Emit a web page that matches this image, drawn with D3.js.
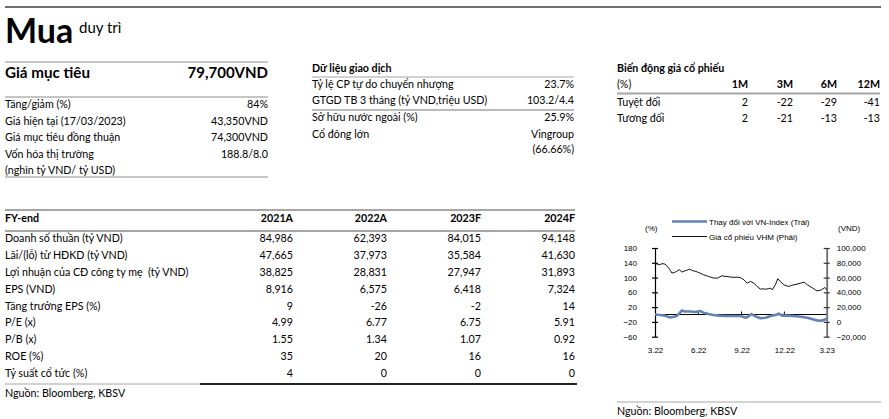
<!DOCTYPE html>
<html><head><meta charset="utf-8">
<script src="https://cdn.jsdelivr.net/npm/d3@7"></script>
<style>
html,body{margin:0;padding:0;background:#fff;}
svg{display:block;}
text{font-family:Lato,"Open Sans",sans-serif;fill:#000;white-space:pre;}
.c text{font-family:"Liberation Sans",Arial,sans-serif;}
</style></head>
<body><svg id="s" width="889" height="419"></svg>
<script>
// ---------- DATA ----------
const ratingMain = "Mua";
const ratingSub = "duy trì";
const targetLabel = "Giá mục tiêu";
const targetValue = "79,700VND";
const summaryLabels = ["Tăng/giảm (%)", "Giá hiện tại (17/03/2023)", "Giá mục tiêu đồng thuận", "Vốn hóa thị trường", "(nghìn tỷ VND/ tỷ USD)"];
const summaryValues = ["84%", "43,350VND", "74,300VND", "188.8/8.0", ""];
const tradeTitle = "Dữ liệu giao dịch";
const tradeLabels = ["Tỷ lệ CP tự do chuyển nhượng", "GTGD TB 3 tháng (tỷ VND,triệu USD)", "Sở hữu nước ngoài (%)", "Cổ đông lớn", ""];
const tradeValues = ["23.7%", "103.2/4.4", "25.9%", "Vingroup", "(66.66%)"];
const perfTitle = "Biến động giá cổ phiếu";
const perfPeriods = ["1M", "3M", "6M", "12M"];
const perfRows = ["Tuyệt đối", "Tương đối"];
const perfAbs = [2, -22, -29, -41];
const perfRel = [2, -21, -13, -13];
const fyYears = ["2021A", "2022A", "2023F", "2024F"];
const fyLabels = ["Doanh số thuần (tỷ VND)", "Lãi/(lỗ) từ HĐKD (tỷ VND)", "Lợi nhuận của CĐ công ty mẹ  (tỷ VND)", "EPS (VND)", "Tăng trưởng EPS (%)", "P/E (x)", "P/B (x)", "ROE (%)", "Tỷ suất cổ tức (%)"];
const fy2021 = ["84,986", "47,665", "38,825", "8,916", "9", "4.99", "1.55", "35", "4"];
const fy2022 = ["62,393", "37,973", "28,831", "6,575", "-26", "6.77", "1.34", "20", "0"];
const fy2023 = ["84,015", "35,584", "27,947", "6,418", "-2", "6.75", "1.07", "16", "0"];
const fy2024 = ["94,148", "41,630", "31,893", "7,324", "14", "5.91", "0.92", "16", "0"];
const sourceText = "Nguồn: Bloomberg, KBSV";

// chart data
const legendLabels = ["Thay đổi với VN-Index (Trái)", "Giá cổ phiếu VHM (Phải)"];
const leftUnit = "(%)";
const rightUnit = "(VND)";
const leftTicks = [180, 140, 100, 60, 20, -20, -60];
const rightTicks = [100000, 80000, 60000, 40000, 20000, 0, -20000];
const xTickDates = ["2022-03-01", "2022-06-01", "2022-09-01", "2022-12-01", "2023-03-01"];
const priceDates = ["2022-03-01","2022-03-05","2022-03-11","2022-03-16","2022-03-22","2022-03-29","2022-04-03","2022-04-06","2022-04-11","2022-04-16","2022-04-19","2022-04-22","2022-04-27","2022-05-04","2022-05-09","2022-05-13","2022-05-21","2022-05-27","2022-06-01","2022-06-07","2022-06-12","2022-06-18","2022-06-23","2022-06-28","2022-07-03","2022-07-12","2022-07-17","2022-07-21","2022-07-26","2022-08-01","2022-08-08","2022-08-15","2022-08-22","2022-08-30","2022-09-06","2022-09-13","2022-09-20","2022-09-27","2022-10-04","2022-10-11","2022-10-17","2022-10-22","2022-10-28","2022-11-02","2022-11-05","2022-11-12","2022-11-17","2022-11-22","2022-11-30","2022-12-05","2022-12-10","2022-12-16","2022-12-21","2022-12-28","2023-01-05","2023-01-12","2023-01-19","2023-01-24","2023-01-30","2023-02-03","2023-02-08","2023-02-13","2023-02-18","2023-02-25","2023-03-01"];
const priceValues = [79300,78400,77400,78800,78300,73800,69500,66100,66800,68300,69700,70600,67400,69200,70100,71500,69200,68300,67000,65400,63800,62600,61500,60500,59300,59300,61000,62400,61800,61500,60800,60200,60600,59800,57000,52500,54800,52500,48000,44300,44800,44300,44900,45700,43400,50200,58400,54800,50200,49000,48000,49400,50200,51200,52500,53800,50200,48200,45700,44200,42100,42500,43400,46600,43400];
const relDates = ["2022-03-01","2022-03-11","2022-03-22","2022-04-02","2022-04-10","2022-04-16","2022-04-22","2022-04-27","2022-05-04","2022-05-16","2022-05-25","2022-06-05","2022-06-12","2022-06-23","2022-07-03","2022-07-16","2022-08-01","2022-08-16","2022-08-30","2022-09-11","2022-09-22","2022-10-01","2022-10-11","2022-10-22","2022-11-02","2022-11-12","2022-11-19","2022-11-26","2022-12-07","2022-12-21","2023-01-05","2023-01-19","2023-01-30","2023-02-08","2023-02-18","2023-02-28"];
const relValues = [0,-1.4,-3,-8,-6,-4,3,11,8,8,7,9.5,5,1.4,-1.4,-3,-4,-4,-4,-8.6,1,-5,-10,-8.6,-4,-1.4,2.3,-3,-3,-4,-6,-8.6,-13,-15.8,-16.7,-12];

// ---------- DRAW ----------
const svg = d3.select("#s");
const fontMain = 10.7;

function hline(x1, x2, y, color, w) {
  svg.append("line").attr("x1", x1).attr("x2", x2).attr("y1", y).attr("y2", y)
    .attr("stroke", color).attr("stroke-width", w);
}
function txt(x, y, s, opts) {
  opts = opts || {};
  return svg.append("text").attr("x", x).attr("y", y)
    .attr("font-size", opts.size || fontMain)
    .attr("font-weight", opts.bold ? "bold" : "normal")
    .attr("text-anchor", opts.anchor || "start")
    .text(s);
}

// header
hline(5, 881, 7, "#404040", 1.5);
txt(5, 43, ratingMain, {size: 34, bold: true});
txt(79, 33, ratingSub, {size: 15});

// summary block
hline(5, 268, 62, "#8c8c8c", 1);
txt(5, 78, targetLabel, {size: 15.2, bold: true});
txt(268, 78, targetValue, {size: 15, bold: true, anchor: "end"});
hline(5, 268, 97, "#8c8c8c", 1);
const sumY = d3.scaleLinear().domain([0, 1]).range([108.3, 124.8]);
summaryLabels.forEach((l, i) => {
  txt(5, sumY(i), l);
  txt(268, sumY(i), summaryValues[i], {anchor: "end"});
});
hline(5, 268, 177, "#8c8c8c", 1);

// trading block
txt(312, 72.3, tradeTitle, {bold: true});
hline(312, 574, 77, "#a6a6a6", 1);
const trY = [88.3, 104.3, 121, 137.7, 153.3];
tradeLabels.forEach((l, i) => {
  txt(312, trY[i], l);
  txt(574, trY[i], tradeValues[i], {anchor: "end"});
});
hline(312, 574, 110, "#a6a6a6", 1.5);

// performance block
txt(617, 72.3, perfTitle, {bold: true});
txt(617, 88.3, "(%)");
const perfX = [748, 793, 837, 880];
perfPeriods.forEach((p, j) => txt(perfX[j], 88.3, p, {bold: true, anchor: "end"}));
hline(617, 880, 93.5, "#a6a6a6", 2);
[perfAbs, perfRel].forEach((row, i) => {
  const y = 105.5 + i * 16.5;
  txt(617, y, perfRows[i]);
  row.forEach((v, j) => txt(perfX[j], y, String(v), {anchor: "end"}));
});

// financial table
hline(5, 575, 210, "#a6a6a6", 2);
const colX = [293, 387, 481, 575];
txt(5, 222, "FY-end", {bold: true});
fyYears.forEach((y, j) => txt(colX[j], 222, y, {bold: true, anchor: "end"}));
hline(5, 575, 231, "#a6a6a6", 2);
const fyCols = [fy2021, fy2022, fy2023, fy2024];
const rowY = d3.scaleLinear().domain([0, 1]).range([242.3, 259.1]);
fyLabels.forEach((l, i) => {
  txt(5, rowY(i), l);
  fyCols.forEach((c, j) => txt(colX[j], rowY(i), c[i], {anchor: "end"}));
});
hline(5, 200, 384, "#a6a6a6", 1);
hline(200, 577, 384, "#222", 2);
txt(5, 397, sourceText);

// right source
hline(617, 881, 402, "#a6a6a6", 1);
txt(617, 415, sourceText);

// ---------- CHART ----------
const g = svg.append("g").attr("class", "c");
const parse = d3.timeParse("%Y-%m-%d");
const x = d3.scaleTime().domain([parse(xTickDates[0]), parse(xTickDates[4])]).range([655, 826.7]);
const yL = d3.scaleLinear().domain([-60, 180]).range([336.7, 248]);
const yR = d3.scaleLinear().domain([-20000, 100000]).range([336.7, 248]);

// zero baseline
g.append("line").attr("x1", x.range()[0]).attr("x2", x.range()[1])
  .attr("y1", yL(0)).attr("y2", yL(0)).attr("stroke", "#000").attr("stroke-width", 1);
xTickDates.slice(1, 4).forEach(d => {
  g.append("line").attr("x1", x(parse(d))).attr("x2", x(parse(d)))
    .attr("y1", yL(0)).attr("y2", yL(0) - 3).attr("stroke", "#000");
});

// left axis
const axL = d3.axisLeft(yL).tickValues(leftTicks).tickSize(0).tickPadding(18);
const gl = g.append("g").attr("transform", `translate(${x.range()[0]},0)`).call(axL);
gl.select(".domain").attr("stroke", "#000").attr("stroke-width", 1.2);
gl.selectAll(".tick line").remove();
gl.selectAll(".tick").append("line").attr("x1", -3).attr("x2", 3).attr("stroke", "#000").attr("stroke-width", 1.2);
gl.selectAll("text").attr("font-size", 8).attr("fill", "#000").attr("font-family", "Liberation Sans, Arial, sans-serif");

// right axis
const axR = d3.axisRight(yR).tickValues(rightTicks).tickSize(0).tickPadding(10).tickFormat(d3.format(","));
const gr = g.append("g").attr("transform", `translate(${x.range()[1]},0)`).call(axR);
gr.select(".domain").attr("stroke", "#6e6e6e").attr("stroke-width", 1.8);
gr.selectAll(".tick line").remove();
gr.selectAll(".tick").append("line").attr("x1", -3).attr("x2", 3).attr("stroke", "#333").attr("stroke-width", 1.2);
gr.selectAll("text").attr("font-size", 8).attr("fill", "#000").attr("font-family", "Liberation Sans, Arial, sans-serif");

// x labels
const axB = d3.axisBottom(x).tickValues(xTickDates.map(parse)).tickSize(0).tickFormat(d3.timeFormat("%-m.%y"));
const gb = g.append("g").attr("transform", "translate(0,344)").call(axB);
gb.select(".domain").remove();
gb.selectAll("text").attr("font-size", 8).attr("fill", "#000").attr("font-family", "Liberation Sans, Arial, sans-serif");

// lines
const priceData = priceDates.map((d, i) => ({d: parse(d), v: priceValues[i]}));
const relData = relDates.map((d, i) => ({d: parse(d), v: relValues[i]}));
g.append("path").datum(priceData)
  .attr("d", d3.line().x(p => x(p.d)).y(p => yR(p.v)))
  .attr("fill", "none").attr("stroke", "#111").attr("stroke-width", 1);
g.append("path").datum(relData)
  .attr("d", d3.line().x(p => x(p.d)).y(p => yL(p.v)))
  .attr("fill", "none").attr("stroke", "#6283b3").attr("stroke-width", 2.6).attr("stroke-linejoin", "round");

// legend
g.append("line").attr("x1", 672).attr("x2", 707).attr("y1", 221.5).attr("y2", 221.5).attr("stroke", "#6283b3").attr("stroke-width", 2.6);
g.append("text").attr("x", 709).attr("y", 224.5).attr("font-size", 8).text(legendLabels[0]);
g.append("line").attr("x1", 672).attr("x2", 707).attr("y1", 236.5).attr("y2", 236.5).attr("stroke", "#111").attr("stroke-width", 1);
g.append("text").attr("x", 709).attr("y", 239.5).attr("font-size", 8).text(legendLabels[1]);
g.append("text").attr("x", 645).attr("y", 231).attr("font-size", 8).text(leftUnit);
g.append("text").attr("x", 838).attr("y", 231).attr("font-size", 8).text(rightUnit);
</script></body></html>
